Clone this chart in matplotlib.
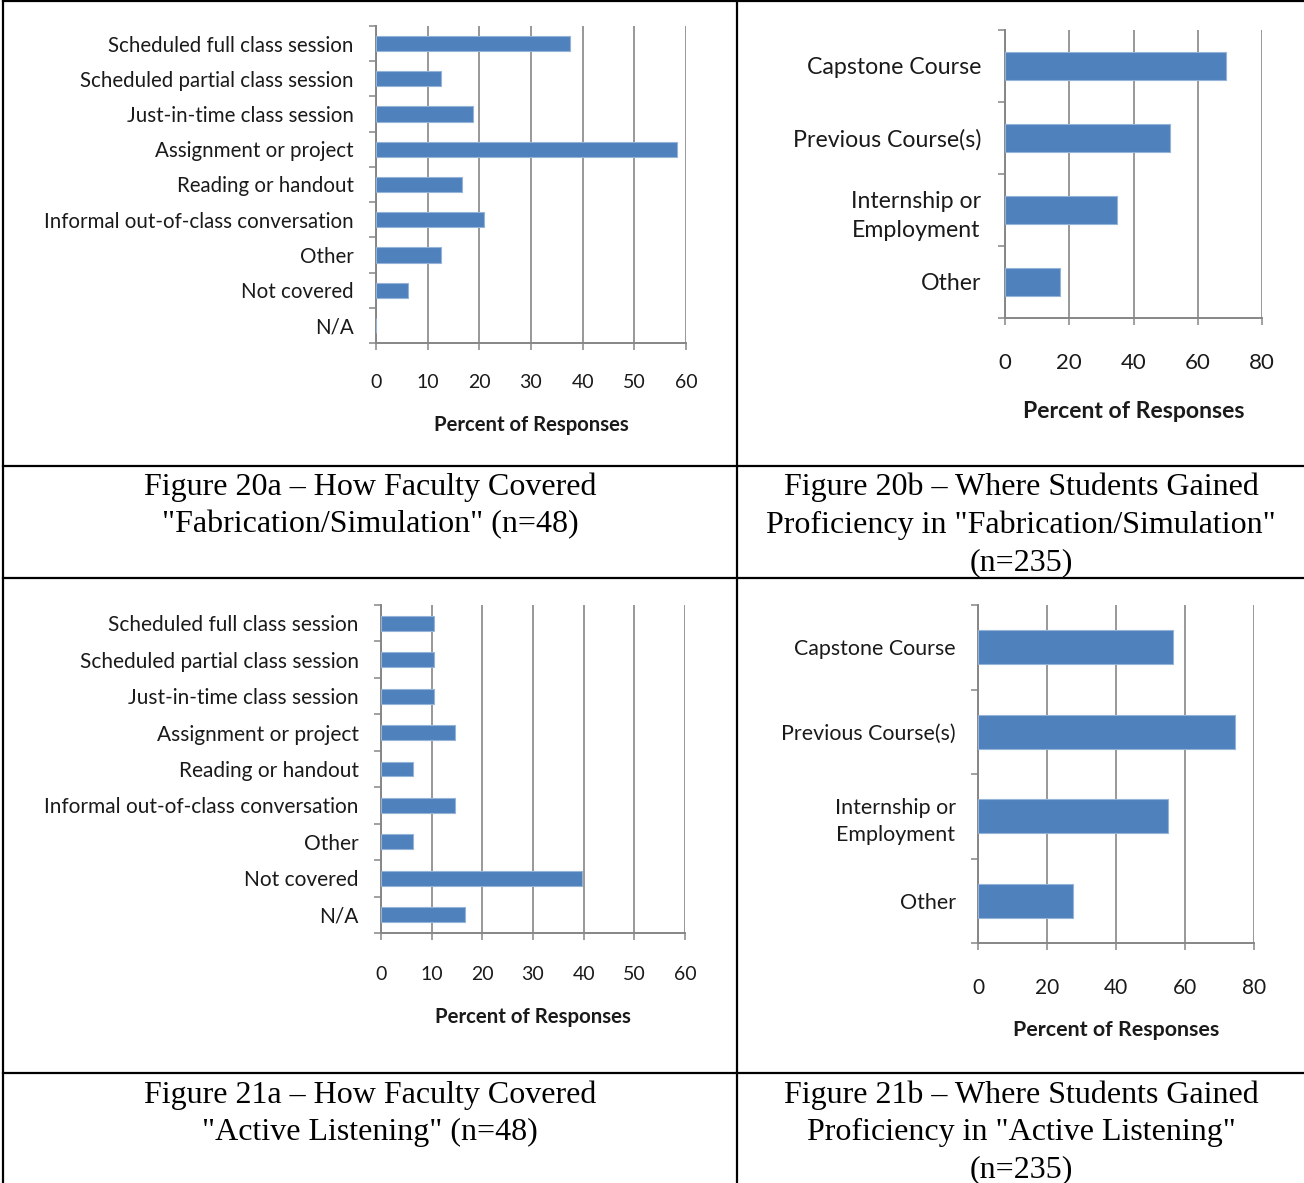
import matplotlib
matplotlib.use("Agg")
import matplotlib.pyplot as plt
from matplotlib.lines import Line2D
import numpy as np

# ---- data -------------------------------------------------------------
faculty_methods = [
    "Scheduled full class session",
    "Scheduled partial class session",
    "Just-in-time class session",
    "Assignment or project",
    "Reading or handout",
    "Informal out-of-class conversation",
    "Other",
    "Not covered",
    "N/A",
]
student_sources = [
    "Capstone Course",
    "Previous Course(s)",
    "Internship or\nEmployment",
    "Other",
]

fab_faculty = [37.5, 12.5, 18.75, 58.33, 16.67, 20.83, 12.5, 6.25, 0.0]
fab_student = [68.9, 51.5, 34.9, 17.0]
listen_faculty = [10.42, 10.42, 10.42, 14.58, 6.25, 14.58, 6.25, 39.58, 16.67]
listen_student = [56.6, 74.6, 55.0, 27.6]

fab_faculty_ticks = [0, 10, 20, 30, 40, 50, 60]
fab_student_ticks = [0, 20, 40, 60, 80]
listen_faculty_ticks = [0, 10, 20, 30, 40, 50, 60]
listen_student_ticks = [0, 20, 40, 60, 80]

captions = [
    "Figure 20a \u2013 How Faculty Covered\n\"Fabrication/Simulation\" (n=48)",
    "Figure 20b \u2013 Where Students Gained\nProficiency in \"Fabrication/Simulation\"\n(n=235)",
    "Figure 21a \u2013 How Faculty Covered\n\"Active Listening\" (n=48)",
    "Figure 21b \u2013 Where Students Gained\nProficiency in \"Active Listening\"\n(n=235)",
]
xlabel = "Percent of Responses"

# ---- style ------------------------------------------------------------
W, H = 1304, 1183
DPI = 100
BAR = "#4F81BD"
EDGE = "#95B3D7"
GREY = "#868686"
SANS = ["Lato", "DejaVu Sans"]
SERIF = ["Liberation Serif", "DejaVu Serif"]

fig = plt.figure(figsize=(W / DPI, H / DPI), dpi=DPI)
fig.patch.set_facecolor("white")


def fx(x):
    return x / W


def fy(y):
    return 1 - y / H


def panel(left, right, top, bottom, cats, vals, ticks, cat_fs, tick_fs, bar_h,
          cat_pad, tick_pad, xlabel_y, xlabel_fs, cat_ls=1.2):
    ax = fig.add_axes([fx(left), fy(bottom), fx(right) - fx(left),
                       fy(top) - fy(bottom)])
    n = len(cats)
    pos = np.arange(n)
    ax.barh(pos, vals, height=bar_h, color=BAR, edgecolor=EDGE, linewidth=0.8,
            zorder=3)
    ax.set_ylim(n - 0.5, -0.5)
    ax.set_xlim(ticks[0], ticks[-1])
    ax.set_xticks(ticks)
    ax.set_xticklabels([str(t) for t in ticks], fontsize=tick_fs, family=SANS,
                       color="#1a1a1a")
    ax.set_yticks(pos)
    ax.set_yticklabels(cats, fontsize=cat_fs, family=SANS, color="#1a1a1a",
                       multialignment="center", linespacing=cat_ls)
    ax.set_yticks(np.arange(-0.5, n, 1.0), minor=True)
    ax.tick_params(axis="y", which="major", length=0, pad=cat_pad)
    ax.tick_params(axis="y", which="minor", length=5, width=1.1, color=GREY,
                   direction="out")
    ax.tick_params(axis="x", which="major", length=5, width=1.1, color=GREY,
                   direction="out", pad=tick_pad)
    ax.grid(axis="x", color=GREY, linewidth=1.2, zorder=0)
    ax.set_axisbelow(True)
    for s in ("top", "right"):
        ax.spines[s].set_visible(False)
    for s in ("left", "bottom"):
        ax.spines[s].set_color(GREY)
        ax.spines[s].set_linewidth(1.4)
    ax.set_xlabel(xlabel, fontsize=xlabel_fs, family=SANS, fontweight="bold",
                  color="#1a1a1a", va="center")
    ax.xaxis.set_label_coords(0.5, (bottom - xlabel_y) / (bottom - top))
    return ax


panel(376, 686, 26, 343, faculty_methods, fab_faculty, fab_faculty_ticks,
      cat_fs=14.8, tick_fs=14, bar_h=0.43, cat_pad=16, tick_pad=17,
      xlabel_y=425, xlabel_fs=14.6)
panel(1005, 1262, 30, 318, student_sources, fab_student, fab_student_ticks,
      cat_fs=16.7, tick_fs=16, bar_h=0.40, cat_pad=17, tick_pad=20,
      xlabel_y=411, xlabel_fs=16.6, cat_ls=1.45)
panel(381, 685, 605, 933, faculty_methods, listen_faculty, listen_faculty_ticks,
      cat_fs=15, tick_fs=14, bar_h=0.41, cat_pad=16, tick_pad=19,
      xlabel_y=1017, xlabel_fs=14.7)
panel(978, 1254, 605, 943, student_sources, listen_student, listen_student_ticks,
      cat_fs=15.4, tick_fs=15, bar_h=0.40, cat_pad=16, tick_pad=20,
      xlabel_y=1030, xlabel_fs=15.4, cat_ls=1.45)

# ---- table frame --------------------------------------------------------
def hline(y, x0=3, x1=W):
    fig.add_artist(Line2D([fx(x0), fx(x1)], [fy(y), fy(y)], color="black",
                          linewidth=1.6, transform=fig.transFigure))


def vline(x, y0=0, y1=H):
    fig.add_artist(Line2D([fx(x), fx(x)], [fy(y0), fy(y1)], color="black",
                          linewidth=1.6, transform=fig.transFigure))


for y in (1, 466, 578, 1073):
    hline(y)
vline(3)
vline(737)

# ---- captions -----------------------------------------------------------
cap_pos = [(370, 472), (1021, 472), (370, 1080), (1021, 1080)]
for (cx, cy), text in zip(cap_pos, captions):
    fig.text(fx(cx), fy(cy), text, ha="center", va="top", fontsize=23,
             family=SERIF, linespacing=1.38, color="black")

fig.savefig("out.png", dpi=DPI, facecolor="white")
